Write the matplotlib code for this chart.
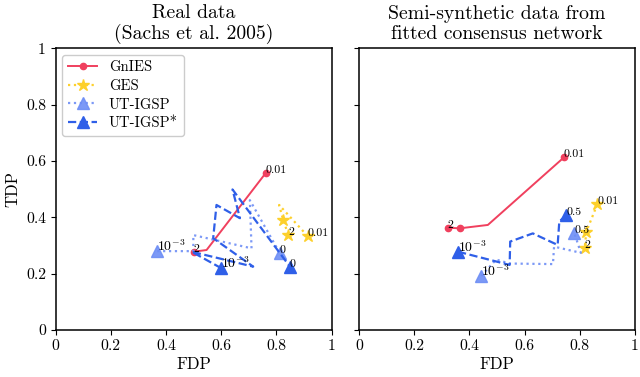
import matplotlib
matplotlib.use("Agg")
import matplotlib.pyplot as plt

plt.rcParams['font.family'] = ['cmr10']
plt.rcParams['mathtext.fontset'] = 'cm'
plt.rcParams['axes.unicode_minus'] = False
plt.rcParams['axes.formatter.use_mathtext'] = True

# ---------------- data ----------------
titles = ["Real data\n(Sachs et al. 2005)", "Semi-synthetic data from\nfitted consensus network"]
ticks = [0, 0.2, 0.4, 0.6, 0.8, 1]
tick_labels = ["0", "0.2", "0.4", "0.6", "0.8", "1"]
series_names = ["GnIES", "GES", "UT-IGSP", "UT-IGSP*"]

# left panel (real data)
gnies_l_x = [0.762, 0.547, 0.501]
gnies_l_y = [0.558, 0.284, 0.278]
ges_l_x = [0.913, 0.810, 0.825, 0.844]
ges_l_y = [0.334, 0.444, 0.390, 0.336]
ut_l_x = [0.368, 0.499, 0.499, 0.710, 0.704, 0.813]
ut_l_y = [0.280, 0.280, 0.337, 0.290, 0.461, 0.272]
uts_l_x = [0.601, 0.493, 0.716, 0.571, 0.583, 0.668, 0.641, 0.849]
uts_l_y = [0.219, 0.278, 0.225, 0.326, 0.444, 0.397, 0.499, 0.225]

# right panel (semi-synthetic)
gnies_r_x = [0.743, 0.467, 0.365, 0.322]
gnies_r_y = [0.613, 0.373, 0.361, 0.363]
ges_r_x = [0.864, 0.824, 0.818]
ges_r_y = [0.447, 0.349, 0.292]
ut_r_x = [0.443, 0.497, 0.546, 0.703, 0.707, 0.804, 0.781]
ut_r_y = [0.192, 0.250, 0.236, 0.234, 0.296, 0.274, 0.343]
uts_r_x = [0.359, 0.546, 0.548, 0.630, 0.720, 0.726, 0.751]
uts_r_y = [0.278, 0.231, 0.314, 0.343, 0.302, 0.385, 0.408]

# endpoint annotations: (series key, point index, text)
left_notes = [("gnies", 0, "0.01"), ("gnies", -1, "2"),
              ("ges", 0, "0.01"), ("ges", -1, "2"),
              ("ut", 0, r"$10^{-3}$"), ("ut", -1, "0"),
              ("uts", 0, r"$10^{-3}$"), ("uts", -1, "0")]
right_notes = [("gnies", 0, "0.01"), ("gnies", -1, "2"),
               ("ges", 0, "0.01"), ("ges", -1, "2"),
               ("ut", 0, r"$10^{-3}$"), ("ut", -1, "0.5"),
               ("uts", 0, r"$10^{-3}$"), ("uts", -1, "0.5")]

colors = {"gnies": "#f0405e", "ges": "#fdd02c", "ut": "#6e8ef5", "uts": "#2f5fe8"}

panels = [
    dict(gnies=(gnies_l_x, gnies_l_y), ges=(ges_l_x, ges_l_y), ut=(ut_l_x, ut_l_y),
         uts=(uts_l_x, uts_l_y), notes=left_notes,
         mk=dict(gnies=[0, 2], ges=[0, 2, 3], ut=[0, 5], uts=[0, 7])),
    dict(gnies=(gnies_r_x, gnies_r_y), ges=(ges_r_x, ges_r_y), ut=(ut_r_x, ut_r_y),
         uts=(uts_r_x, uts_r_y), notes=right_notes,
         mk=dict(gnies=[0, 2, 3], ges=[0, 1, 2], ut=[0, 6], uts=[0, 6])),
]

fig = plt.figure(figsize=(6.4, 3.77), dpi=100)
ax_l = fig.add_axes([0.087, 0.1247, 0.431, 0.747])
ax_r = fig.add_axes([0.561, 0.1247, 0.431, 0.747])

styles = {
    "gnies": dict(ls='-', marker='o', ms=4.5, lw=1.4),
    "ges": dict(ls=':', marker='*', ms=9, lw=1.6),
    "ut": dict(ls=':', marker='^', ms=8.5, lw=1.6, alpha=0.9),
    "uts": dict(ls='--', marker='^', ms=8.5, lw=1.6),
}
keys = ["gnies", "ges", "ut", "uts"]

for ax, p, title in zip([ax_l, ax_r], panels, titles):
    for k, name in zip(keys, series_names):
        x, y = p[k]
        ax.plot(x, y, color=colors[k], markevery=p["mk"][k], label=name, **styles[k])
    for k, idx, txt in p["notes"]:
        x, y = p[k]
        fs = 10 if txt.startswith("$") else 8.5
        ax.text(x[idx], y[idx], txt, fontsize=fs, ha='left', va='baseline')
    ax.set_xlim(0, 1)
    ax.set_ylim(0, 1)
    ax.set_xticks(ticks)
    ax.set_xticklabels(tick_labels, fontsize=11.3)
    ax.set_yticks(ticks)
    ax.set_title(title, fontsize=14.2, linespacing=1.1, pad=7)
    ax.set_xlabel("FDP", fontsize=12, labelpad=2)
    for s in ax.spines.values():
        s.set_linewidth(1.1)

ax_l.set_yticklabels(tick_labels, fontsize=11.3)
ax_r.set_yticklabels([])
ax_l.set_ylabel("TDP", fontsize=12)

leg = ax_l.legend(loc='upper left', fontsize=10.5, fancybox=True, framealpha=1,
                  borderaxespad=0.45, handlelength=2.0, labelspacing=0.33)
leg.get_frame().set_edgecolor('#cccccc')

fig.savefig("out.png", dpi=100)
